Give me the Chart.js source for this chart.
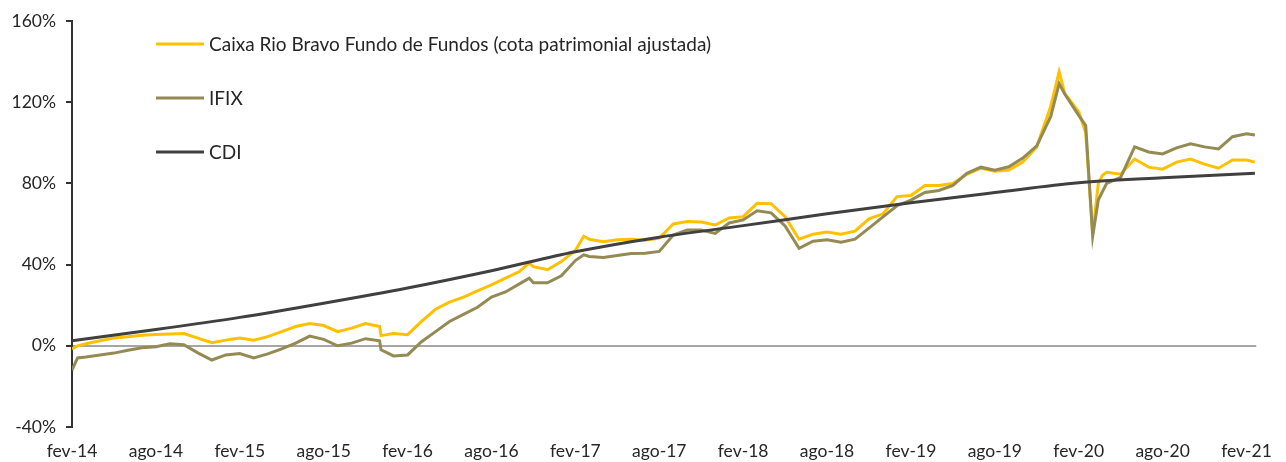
<!DOCTYPE html>
<html>
<head>
<meta charset="utf-8">
<script src="https://cdn.jsdelivr.net/npm/chart.js@4/dist/chart.umd.min.js"></script>
<style>
    html, body { margin: 0; padding: 0; background: #fff; }
    #wrap { width: 1286px; height: 462px; position: relative; }
</style>
</head>
<body>
<div id="wrap"><canvas id="fundChart"></canvas></div>
<script>
// months counted from fev-14
const months = [0, 0.4, 1, 2, 3, 4, 5, 6, 7, 8, 9, 10, 11, 12, 13, 14, 15, 16, 17, 18, 19, 20, 21, 22, 22.1,
    23, 24, 25, 26, 27, 28, 29, 30, 31, 32, 32.7, 33, 34, 35, 36, 36.6, 37, 38, 39, 40, 41, 42, 43, 44, 45, 46, 47, 48,
    49, 50, 51, 52, 53, 54, 55, 56, 57, 58, 59, 60, 61, 62, 63, 64, 65, 66, 67, 68, 69, 70, 70.6, 71, 72,
    72.5, 73, 73.4, 73.7, 74, 75, 76, 77, 78, 79, 80, 81, 82, 83, 84, 84.6];

const caixa = [-1.6, 0.0, 1.0, 2.5, 3.8, 4.5, 5.2, 5.6, 5.8, 6.0, 3.8, 1.5, 2.8, 3.8, 2.8, 4.5, 7.0, 9.5, 11.0, 10.0, 7.0, 8.7, 11.0, 9.5, 5.0,
    6.0, 5.5, 12.0, 18.0, 21.5, 24.0, 27.0, 30.0, 33.3, 36.6, 40.7, 39.0, 37.5, 41.5, 47.0, 54.0, 52.5, 51.3, 52.2, 52.5, 52.0, 53.0, 60.0, 61.2, 61.0, 59.5, 63.0, 63.6,
    70.2, 70.0, 63.6, 52.5, 55.0, 56.0, 55.0, 56.5, 62.5, 65.0, 73.5, 74.0, 79.0, 79.0, 80.0, 84.5, 87.5, 86.0, 86.6, 90.5, 98.0, 118.0, 135.0, 124.3, 115.3,
    105.0, 55.0, 80.0, 84.0, 85.5, 84.5, 92.0, 88.0, 87.0, 90.5, 92.0, 89.5, 87.5, 91.5, 91.5, 90.5];

const ifix = [-12, -6, -5.5, -4.5, -3.6, -2.2, -1.0, -0.5, 1.0, 0.5, -3.5, -7.0, -4.5, -3.8, -6.0, -4.0, -1.5, 1.3, 4.8, 3.2, 0.0, 1.3, 3.5, 2.5, -2,
    -5, -4.5, 2, 7, 12, 15.5, 19, 24, 26.5, 30.5, 33.3, 31, 31, 34.5, 42, 44.8, 44, 43.5, 44.5, 45.5, 45.6, 46.5, 54.6, 57, 57, 55.4, 60.5, 62,
    66.5, 65.5, 59, 48, 51.5, 52.2, 51, 52.5, 58, 63.5, 69, 71.8, 75.5, 76.5, 79, 85, 88, 86.5, 88.2, 92.5, 98.5, 113, 129.2, 124, 113.5,
    108.5, 54, 71.8, 76, 80, 83, 98, 95.5, 94.5, 97.5, 99.5, 98, 97, 103, 104.5, 103.8];

const cdiMonths = [0, 6, 12, 18, 24, 30, 36, 42, 48, 54, 60, 66, 72, 78, 84.6];
const cdi = [2.5, 8.0, 14.0, 21.0, 28.5, 37.0, 46.3, 53.5, 59.2, 65.0, 70.5, 75.5, 80.3, 82.8, 85.0];

const xTickLabels = ['fev-14', 'ago-14', 'fev-15', 'ago-15', 'fev-16', 'ago-16', 'fev-17', 'ago-17',
    'fev-18', 'ago-18', 'fev-19', 'ago-19', 'fev-20', 'ago-20', 'fev-21'];

const seriesNames = ['Caixa Rio Bravo Fundo de Fundos (cota patrimonial ajustada)', 'IFIX', 'CDI'];
const seriesColors = ['#FFC000', '#948A54', '#404040'];

const textColor = '#262626';
const fontFamily = 'Lato, "Open Sans", sans-serif';

function toPoints(xs, ys) {
    return xs.map((x, i) => ({ x: x, y: ys[i] }));
}

// legend drawn inside the plot area, top left, one row per series
const insideLegend = {
    id: 'insideLegend',
    afterDraw(chart) {
        const ctx = chart.ctx;
        const left = chart.chartArea.left;
        const rows = [44, 98, 152];
        ctx.save();
        ctx.font = '19px ' + fontFamily;
        ctx.textBaseline = 'middle';
        ctx.fillStyle = textColor;
        seriesNames.forEach((name, i) => {
            ctx.strokeStyle = seriesColors[i];
            ctx.lineWidth = 3;
            ctx.beginPath();
            ctx.moveTo(left + 84, rows[i]);
            ctx.lineTo(left + 132, rows[i]);
            ctx.stroke();
            ctx.fillText(name, left + 137, rows[i] + 1);
        });
        ctx.restore();
    }
};

new Chart(document.getElementById('fundChart'), {
    type: 'line',
    data: {
        datasets: [
            {
                label: seriesNames[0],
                data: toPoints(months, caixa),
                borderColor: seriesColors[0],
                borderWidth: 3,
                pointRadius: 0,
                order: 2
            },
            {
                label: seriesNames[1],
                data: toPoints(months, ifix),
                borderColor: seriesColors[1],
                borderWidth: 3,
                pointRadius: 0,
                order: 1
            },
            {
                label: seriesNames[2],
                data: toPoints(cdiMonths, cdi),
                borderColor: seriesColors[2],
                borderWidth: 3,
                pointRadius: 0,
                cubicInterpolationMode: 'monotone',
                order: 0
            }
        ]
    },
    options: {
        responsive: true,
        maintainAspectRatio: false,
        animation: false,
        layout: { padding: { left: 0, right: 17, top: 21, bottom: 0 } },
        plugins: {
            legend: { display: false },
            tooltip: { enabled: false }
        },
        scales: {
            x: {
                type: 'linear',
                min: 0,
                max: 84.7,
                border: { display: false },
                grid: { display: false, drawTicks: false },
                ticks: {
                    stepSize: 6,
                    includeBounds: false,
                    autoSkip: false,
                    maxRotation: 0,
                    padding: 14,
                    color: textColor,
                    font: { family: fontFamily, size: 17.5 },
                    callback: (value) => (value % 6 === 0 ? xTickLabels[value / 6] : '')
                },
                afterFit: (scale) => { scale.height = 35; }
            },
            y: {
                min: -40,
                max: 160,
                border: { display: true, color: '#333333', width: 2 },
                grid: {
                    color: (c) => (c.tick && c.tick.value === 0 ? '#A6A6A6' : 'rgba(0,0,0,0)'),
                    lineWidth: 2,
                    tickColor: '#333333',
                    tickLength: 6
                },
                ticks: {
                    stepSize: 40,
                    padding: 10,
                    color: textColor,
                    font: { family: fontFamily, size: 17.5 },
                    callback: (value) => value + '%'
                },
                afterFit: (scale) => { scale.width = 72; }
            }
        }
    },
    plugins: [insideLegend]
});
</script>
</body>
</html>
